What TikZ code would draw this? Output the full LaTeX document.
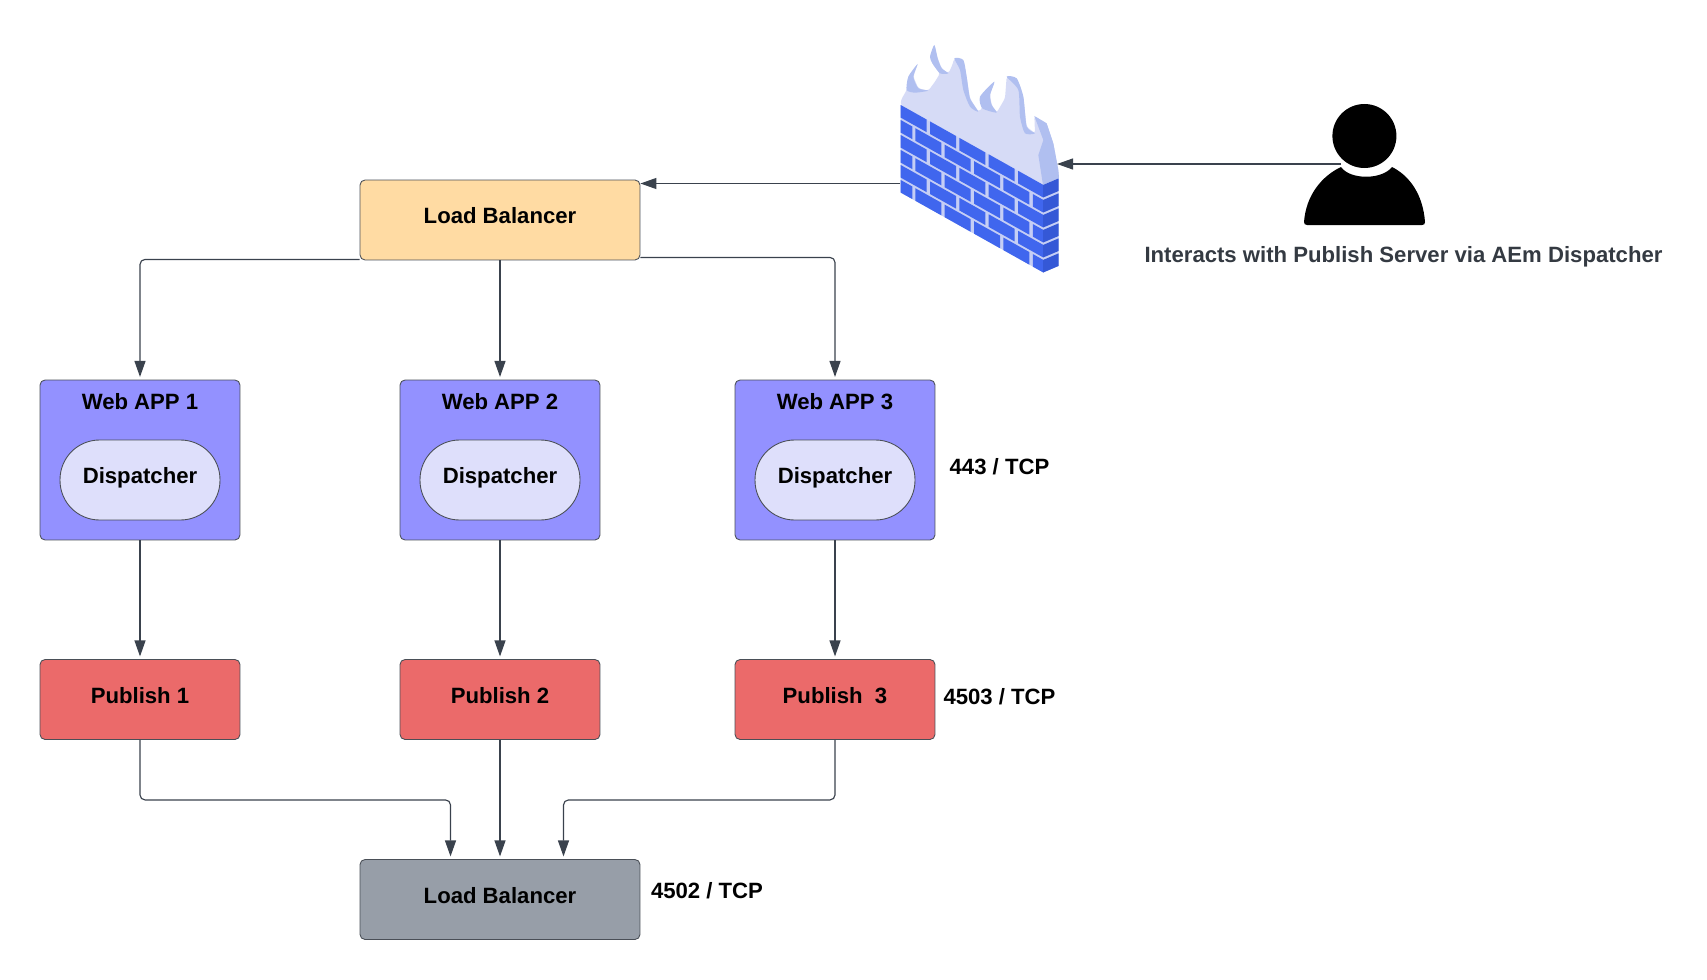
\documentclass[tikz,border=0pt]{standalone}
\usepackage{fontspec}
\setmainfont{Liberation Sans}
\usetikzlibrary{arrows.meta}
\definecolor{lbcolor}{HTML}{FFDBA3}
\definecolor{appcolor}{HTML}{9391FF}
\definecolor{dispcolor}{HTML}{DEDFFB}
\definecolor{pubcolor}{HTML}{EB6A6A}
\definecolor{grycolor}{HTML}{979EA8}
\definecolor{linecolor}{HTML}{3A424D}
\definecolor{edgecolor}{HTML}{4A4F57}
\definecolor{capcolor}{HTML}{343A42}
\definecolor{brickfront}{HTML}{4066EE}
\definecolor{brickside}{HTML}{3558D6}
\definecolor{mortar}{HTML}{C5CEF5}
\definecolor{flamebody}{HTML}{D6DBF6}
\definecolor{flametip}{HTML}{B0BFF0}
\tikzset{
  txt/.style={font=\bfseries\fontsize{12.6}{15}\selectfont},
  box/.style={txt,draw=edgecolor,line width=.5pt,rounded corners=.1cm,
    minimum width=4cm,text height=.75em,text depth=.3em},
  lbbox/.style={box,minimum width=5.6cm,minimum height=1.6cm},
  appbox/.style={box,fill=appcolor,minimum height=3.2cm},
  dispbox/.style={box,fill=dispcolor,minimum width=3.2cm,minimum height=1.6cm,rounded corners=.79cm},
  pubbox/.style={box,fill=pubcolor,minimum height=1.6cm},
  conn/.style={draw=linecolor,line width=.65pt,rounded corners=.1cm,shorten >=1.5pt,
    -{Triangle[length=.32cm,width=.22cm]}}
}
\newcommand{\brick}[4]{\fill[#4] (#1,#3) -- (#2,#3) -- (#2,#3+.84) -- (#1,#3+.84) -- cycle;}
\begin{document}
\begin{tikzpicture}[x=.02cm,y=-.02cm]
  \useasboundingbox (0,0) rectangle (1707,980);
  % boxes
  \node[lbbox,fill=lbcolor] (lbtop) at (500,220) {Load Balancer};
  \node[appbox] (app1) at (140,460) {};
  \node[appbox] (app2) at (500,460) {};
  \node[appbox] (app3) at (835,460) {};
  \node[txt] (title1) at (140,402) {Web APP 1};
  \node[txt] (title2) at (500,402) {Web APP 2};
  \node[txt] (title3) at (835,402) {Web APP 3};
  \node[dispbox] (disp1) at (140,480) {Dispatcher};
  \node[dispbox] (disp2) at (500,480) {Dispatcher};
  \node[dispbox] (disp3) at (835,480) {Dispatcher};
  \node[pubbox] (pub1) at (140,699.5) {Publish 1};
  \node[pubbox] (pub2) at (500,699.5) {Publish 2};
  \node[pubbox] (pub3) at (835,699.5) {Publish~~3};
  \node[lbbox,fill=grycolor] (lbbot) at (500,899.5) {Load Balancer};
  \node[txt] (port443) at (999.5,467) {443 / TCP};
  \node[txt] (port4503) at (999.5,697) {4503 / TCP};
  \node[txt] (port4502) at (707,891) {4502 / TCP};
  \node[txt,text=capcolor] (caption) at (1403.5,257) {Interacts with Publish Server via AEm Dispatcher};
  % firewall: flames
  \begin{scope}[shift={(895,40)},x=.00667cm,y=-.00667cm]
    \fill[flamebody,rounded corners=.05cm] (17,195) -- (18,180) -- (35,150) -- (40,110) -- (68,72) -- (55,110)
      -- (70,145) -- (100,152) -- (120,125) -- (135,100) -- (112,70) -- (105,50) -- (118,15)
      -- (128,55) -- (140,85) -- (160,100) -- (170,80) -- (178,55) -- (205,60) -- (215,110)
      -- (225,175) -- (250,215) -- (262,205) -- (255,170) -- (298,125) -- (285,165) -- (290,195)
      -- (305,218) -- (330,175) -- (335,110) -- (365,115) -- (385,170) -- (395,260) -- (420,280)
      -- (418,228) -- (455,250) -- (475,310) -- (490,390) -- (492,414) -- (444,435) -- cycle;
    \fill[flametip] plot[smooth cycle,tension=.4] coordinates {(68,72) (40,110) (35,150) (60,158) (100,152) (70,145) (55,110)};
    \fill[flametip] plot[smooth cycle,tension=.4] coordinates {(118,15) (105,50) (112,70) (135,100) (160,100) (140,85) (128,55)};
    \fill[flametip] plot[smooth cycle,tension=.4] coordinates {(178,55) (205,60) (215,110) (225,175) (250,215) (225,200) (205,150) (195,90)};
    \fill[flametip] plot[smooth cycle,tension=.4] coordinates {(298,125) (255,170) (262,205) (305,218) (290,195) (285,165)};
    \fill[flametip] plot[smooth cycle,tension=.4] coordinates {(335,110) (365,115) (385,170) (395,260) (420,280) (390,280) (375,230) (370,150)};
    \fill[flametip] (418,228) -- (455,250) -- (475,310) -- (490,390) -- (492,414) -- (444,435) -- (430,345) -- (445,300) -- cycle;
  \end{scope}
  % firewall: bricks, front face
  \begin{scope}[shift={(900.7,105)},x={(.587cm,-.329cm)},y={(0cm,-.3cm)}]
    \fill[mortar] (0,0) -- (4.86,0) -- (4.86,5.84) -- (0,5.84) -- cycle;
    \foreach \r in {0,2,4} {
      \foreach \i in {0,...,3} {\brick{\i}{\i+.886}{\r}{brickfront}}
      \brick{4}{4.86}{\r}{brickfront}
    }
    \foreach \r in {1,3,5} {
      \brick{0}{.4}{\r}{brickfront}
      \foreach \i in {0,...,3} {\brick{\i+.5}{\i+1.386}{\r}{brickfront}}
      \brick{4.5}{4.86}{\r}{brickfront}
    }
  \end{scope}
  % firewall: bricks, side face
  \begin{scope}[shift={(1043,185)},x={(.313cm,.133cm)},y={(0cm,-.3cm)}]
    \fill[mortar] (0,0) -- (1,0) -- (1,5.84) -- (0,5.84) -- cycle;
    \foreach \r in {0,...,5} {\brick{0}{1}{\r}{brickside}}
  \end{scope}
  % person
  \fill[black] (1364.4,136) circle [radius=32];
  \fill[black] (1304,222) .. controls (1306,195) and (1322,176) .. (1341,167)
    .. controls (1350,180) and (1382,180) .. (1392,167)
    .. controls (1410,176) and (1423,195) .. (1425,222)
    .. controls (1425,224) and (1424,225) .. (1422,225)
    -- (1307,225) .. controls (1305,225) and (1304,224) .. (1304,222) -- cycle;
  \coordinate (fwleft) at (900,183.5);
  \coordinate (fwright) at (1057,164);
  \coordinate (personhead) at (1341,164);
  % connectors
  \begin{scope}
    \draw[conn,shorten >=0pt] (personhead) -- (fwright);
    \draw[conn,shorten >=0pt] (fwleft) -- (fwleft -| lbtop.east);
    \draw[conn] ([yshift=.02cm]lbtop.south west) -| (app1.north);
    \draw[conn] (lbtop.south) -- (app2.north);
    \draw[conn] ([yshift=.06cm]lbtop.south east) -| (app3.north);
    \draw[conn] (app1.south) -- (pub1.north);
    \draw[conn] (app2.south) -- (pub2.north);
    \draw[conn] (app3.south) -- (pub3.north);
    \draw[conn] (pub1.south) -- ++(0,60) -| ([xshift=-.99cm]lbbot.north);
    \draw[conn] (pub2.south) -- (lbbot.north);
    \draw[conn] (pub3.south) -- ++(0,60) -| ([xshift=1.27cm]lbbot.north);
  \end{scope}
\end{tikzpicture}
\end{document}
